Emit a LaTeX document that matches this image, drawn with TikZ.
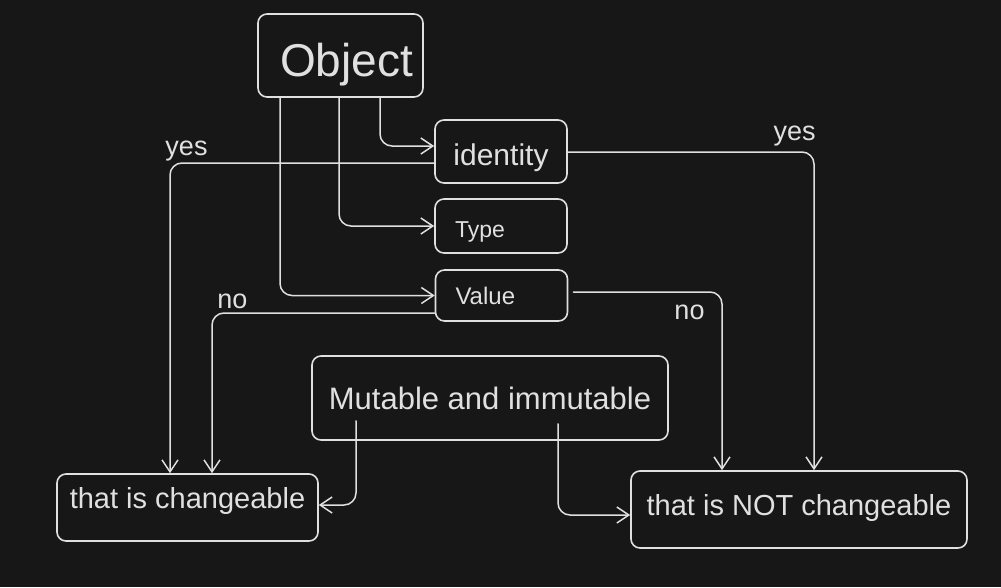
\documentclass[tikz,border=0pt]{standalone}
\usepackage{fontspec}
\setmainfont{Liberation Sans}
\usetikzlibrary{arrows.meta, positioning, calc}
\definecolor{bgcolor}{RGB}{23,23,23}
\definecolor{inkcolor}{RGB}{224,224,224}

\begin{document}
\begin{tikzpicture}[x=1pt, y=-1pt,
    box/.style={draw=inkcolor, line width=1.6pt, rounded corners=9pt, text=inkcolor, inner sep=0pt},
    conn/.style={draw=inkcolor, line width=1.5pt, rounded corners=12pt, line cap=round,
        -{Straight Barb[length=12pt, width=16pt, line width=1.5pt]}},
    lbl/.style={text=inkcolor, font=\fontsize{27}{30}\selectfont, inner sep=0pt, anchor=base}]
    \fill[bgcolor] (0,0) rectangle (1001,587);
    \useasboundingbox (0,0) rectangle (1001,587);

    % Object
    \node[box, minimum width=165pt, minimum height=83pt, text height=41pt, text depth=0pt,
        text width=145pt, align=right, font=\fontsize{46}{50}\selectfont] (obj) at (340.5,55.5) {Object};

    % Attributes
    \node[box, minimum width=132pt, minimum height=63pt, text height=27.5pt, text depth=0pt,
        font=\fontsize{30}{34}\selectfont] (ident) at (501,151.5) {identity};
    \node[box, minimum height=54pt, text width=92pt, inner xsep=20pt, align=left,
        text height=22.5pt, text depth=0pt, font=\fontsize{23}{26}\selectfont] (type) at (501,226) {Type};
    \node[box, minimum height=51pt, text width=92pt, inner xsep=20pt, align=left,
        font=\fontsize{24}{27}\selectfont] (value) at (501.5,295.5) {Value};

    % Mutable and immutable
    \node[box, minimum width=356pt, minimum height=84pt, font=\fontsize{31}{35}\selectfont] (mut) at (490,398) {Mutable and immutable};

    % Results
    \node[box, minimum width=261pt, minimum height=67pt, text height=21pt, text depth=20pt,
        font=\fontsize{29}{33}\selectfont] (chg) at (187.5,507.5) {that is changeable};
    \node[box, minimum width=336pt, minimum height=77pt, text height=21pt, text depth=10pt,
        font=\fontsize{29}{33}\selectfont] (notchg) at (799,509.5) {that is NOT changeable};

    % Object to its attributes
    \draw[conn] (obj.south -| 380,0) |- ([yshift=5.5pt]ident.west);
    \draw[conn] (obj.south -| 339,0) |- (type.west);
    \draw[conn] (obj.south -| 280,0) |- (value.west);

    % Attributes to results
    \draw[conn] ([yshift=-11.5pt]ident.west) -| (chg.north -| 170,0);
    \draw[conn] ([yshift=-17.5pt]value.west) -| (chg.north -| 212,0);
    \draw[conn] ([yshift=-0.5pt]ident.east) -| (notchg.north -| 814,0);
    \draw[conn] ([xshift=5pt, yshift=3.5pt]value.east) -| (notchg.north -| 722,0);

    % Mutable and immutable to results
    \draw[conn] ($(mut.south)+(-134,-20)$) |- ([yshift=2.5pt]chg.east);
    \draw[conn] ($(mut.south)+(68,-17)$) |- ([yshift=-5.5pt]notchg.west);

    % Labels
    \node[lbl] (yesleft) at (186.5,155) {yes};
    \node[lbl] (noleft) at (232.5,308) {no};
    \node[lbl] (yesright) at (794.5,140) {yes};
    \node[lbl] (noright) at (689.5,319) {no};
\end{tikzpicture}
\end{document}
